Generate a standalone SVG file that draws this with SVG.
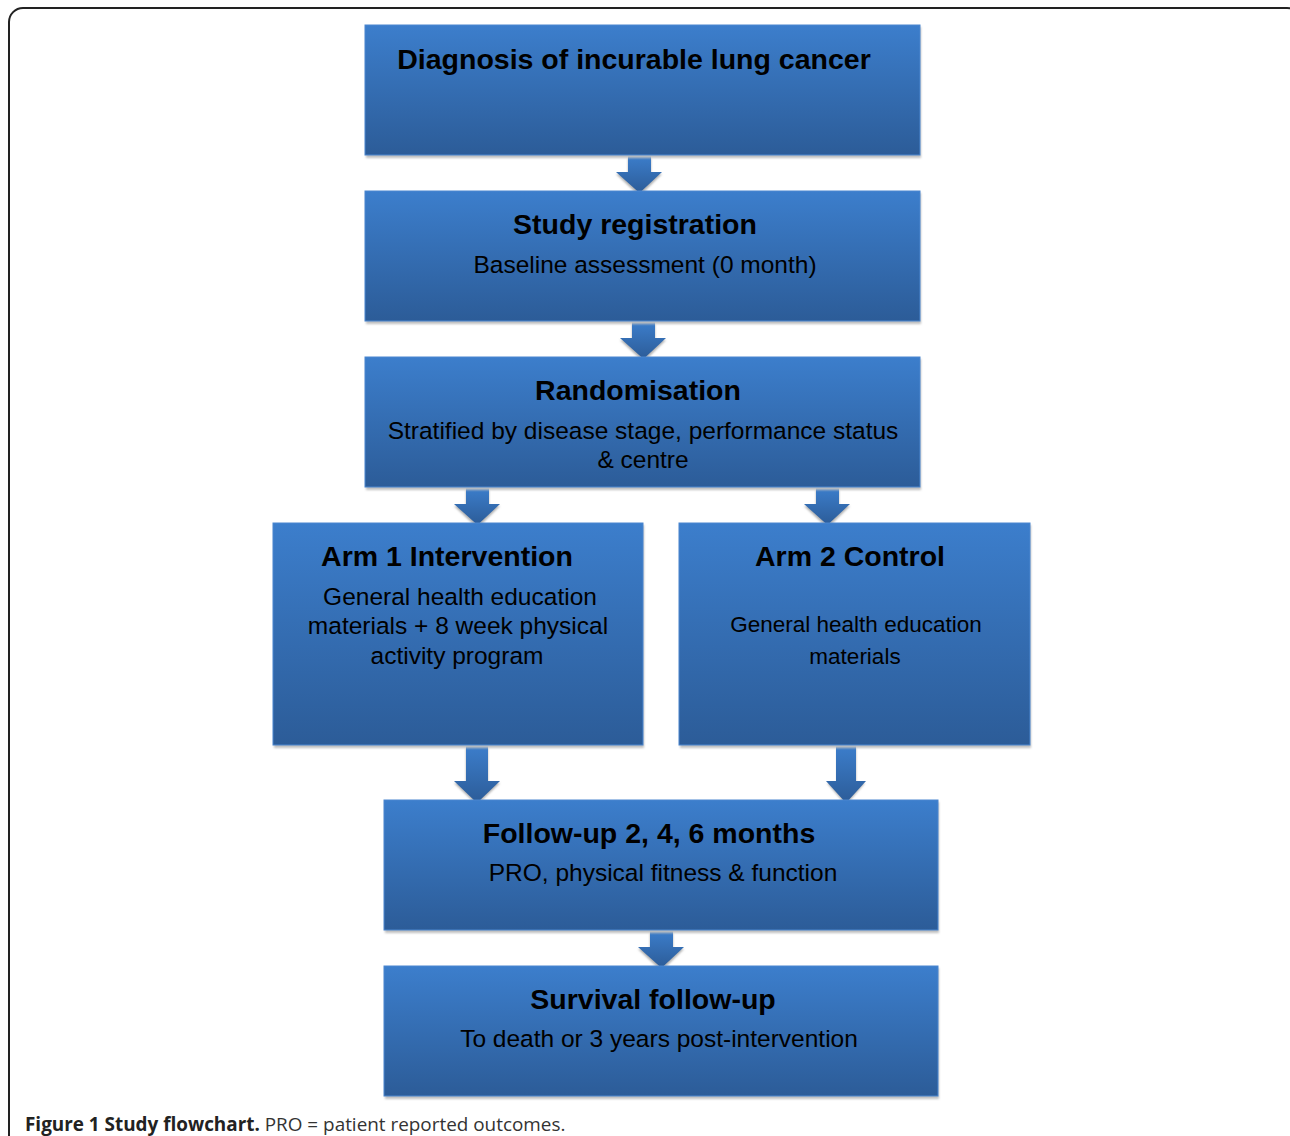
<svg xmlns="http://www.w3.org/2000/svg" width="1290" height="1136" viewBox="0 0 1290 1136">
<defs>
<linearGradient id="g" x1="0" y1="0" x2="0" y2="1">
<stop offset="0" stop-color="#3C7ECC"/>
<stop offset="1" stop-color="#2C5C98"/>
</linearGradient>
<filter id="sh" x="-5%" y="-5%" width="110%" height="120%">
<feGaussianBlur stdDeviation="1.2"/>
</filter>
<style>
.box{fill:url(#g);stroke:#4A86CF;stroke-width:1}
.shadow{fill:#BFBFBF;filter:url(#sh)}
.arr{fill:url(#g)}
.ash{fill:#B0B0B0;filter:url(#sh)}
.t{font-family:"Liberation Sans",Arial,sans-serif;font-weight:bold;font-size:28.5px;fill:#000;text-anchor:middle}
.s{font-family:"Liberation Sans",Arial,sans-serif;font-size:24.5px;fill:#000;text-anchor:middle}
.s2{font-family:"Liberation Sans",Arial,sans-serif;font-size:22.5px;fill:#000;text-anchor:middle}
.cap{font-family:"Open Sans","Liberation Sans",sans-serif;font-size:18.9px;fill:#333}
</style>
</defs>
<rect x="9" y="8" width="1292" height="1200" rx="14" fill="none" stroke="#222" stroke-width="2"/>
<g id="connectors">
<g>
<path class="ash" d="M628,158 H651 V174 H662 L639.5,196 L616,174 H628 Z"/>
<path class="arr" d="M628,155 H651 V172 H662 L639.5,193 L616,172 H628 Z"/>
</g>
<g>
<path class="ash" d="M632,324 H655 V340 H666 L643.5,362 L620,340 H632 Z"/>
<path class="arr" d="M632,321 H655 V338 H666 L643.5,359 L620,338 H632 Z"/>
</g>
<g>
<path class="ash" d="M466,490 H489 V506 H500 L477.5,528 L454,506 H466 Z"/>
<path class="arr" d="M466,487 H489 V504 H500 L477.5,525 L454,504 H466 Z"/>
</g>
<g>
<path class="ash" d="M816,490 H839 V506 H850 L827.5,528 L804,506 H816 Z"/>
<path class="arr" d="M816,487 H839 V504 H850 L827.5,525 L804,504 H816 Z"/>
</g>
<g>
<path class="ash" d="M466,748 H488 V783 H500 L477,805 L454,783 H466 Z"/>
<path class="arr" d="M466,745 H488 V781 H500 L477,803 L454,781 H466 Z"/>
</g>
<g>
<path class="ash" d="M837,748 H856 V783 H865 L846,805 L827,783 H837 Z"/>
<path class="arr" d="M836,745 H856 V781 H866 L846,803 L826,781 H836 Z"/>
</g>
<g>
<path class="ash" d="M650,933 H673 V949 H684 L661.5,971 L638,949 H650 Z"/>
<path class="arr" d="M650,930 H673 V947 H684 L661.5,968 L638,947 H650 Z"/>
</g>
</g>
<g id="n1">
<rect class="shadow" x="366" y="27" width="555" height="131"/>
<rect class="box" x="365" y="25" width="555" height="130"/>
<text class="t" x="634" y="69">Diagnosis of incurable lung cancer</text>
</g>
<g id="n2">
<rect class="shadow" x="366" y="193" width="555" height="131"/>
<rect class="box" x="365" y="191" width="555" height="130"/>
<text class="t" x="635" y="234">Study registration</text>
<text class="s" x="645" y="273">Baseline assessment (0 month)</text>
</g>
<g id="n3">
<rect class="shadow" x="366" y="359" width="555" height="131"/>
<rect class="box" x="365" y="357" width="555" height="130"/>
<text class="t" x="638" y="400">Randomisation</text>
<text class="s" x="643" y="439">Stratified by disease stage, performance status</text>
<text class="s" x="643" y="468">&amp; centre</text>
</g>
<g id="n4">
<rect class="shadow" x="274" y="525" width="370" height="223"/>
<rect class="box" x="273" y="523" width="370" height="222"/>
<text class="t" x="447" y="566">Arm 1 Intervention</text>
<text class="s" x="460" y="605">General health education</text>
<text class="s" x="458" y="634">materials + 8 week physical</text>
<text class="s" x="457" y="664">activity program</text>
</g>
<g id="n5">
<rect class="shadow" x="680" y="525" width="351" height="223"/>
<rect class="box" x="679" y="523" width="351" height="222"/>
<text class="t" x="850" y="566">Arm 2 Control</text>
<text class="s2" x="856" y="632">General health education</text>
<text class="s2" x="855" y="664">materials</text>
</g>
<g id="n6">
<rect class="shadow" x="385" y="802" width="554" height="131"/>
<rect class="box" x="384" y="800" width="554" height="130"/>
<text class="t" x="649" y="843">Follow-up 2, 4, 6 months</text>
<text class="s" x="663" y="881">PRO, physical fitness &amp; function</text>
</g>
<g id="n7">
<rect class="shadow" x="385" y="968" width="554" height="131"/>
<rect class="box" x="384" y="966" width="554" height="130"/>
<text class="t" x="653" y="1009">Survival follow-up</text>
<text class="s" x="659" y="1047">To death or 3 years post-intervention</text>
</g>
<text class="cap" x="25" y="1131"><tspan font-weight="bold" fill="#222">Figure 1 Study flowchart.</tspan> PRO = patient reported outcomes.</text>
</svg>
